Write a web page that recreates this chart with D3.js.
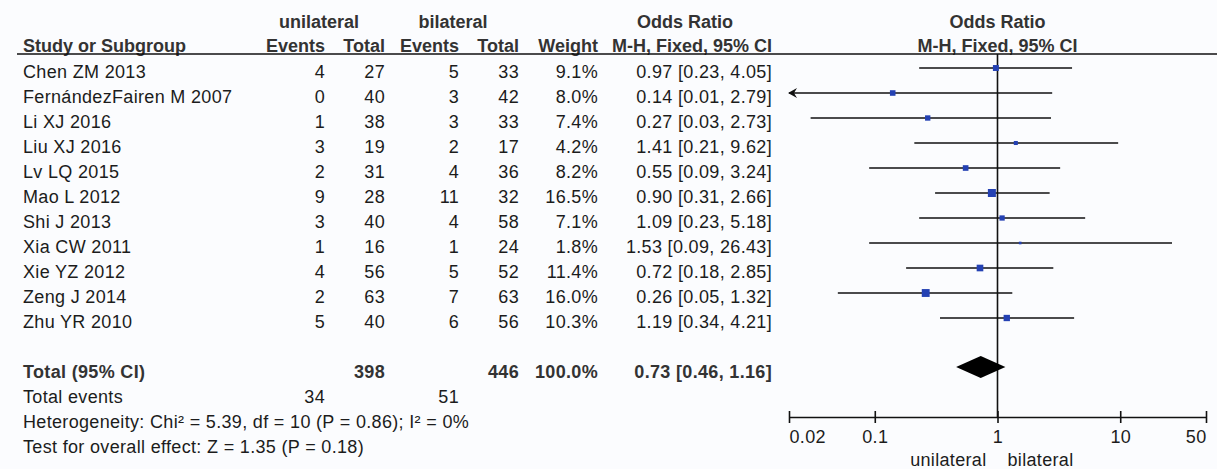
<!DOCTYPE html>
<html>
<head>
<meta charset="utf-8">
<script src="https://cdn.jsdelivr.net/npm/d3@7"></script>
<style>
  html, body { margin: 0; padding: 0; background: #fbfcfe; }
  svg { display: block; }
  text { font-family: Arial, "Liberation Sans", sans-serif; font-size: 18px; fill: #1c1c1c; }
  .body { letter-spacing: 0.33px; }
  .bold { font-weight: bold; fill: #333; }
</style>
</head>
<body>
<svg id="chart" width="1217" height="469"></svg>
<script>
// Study-level data
const studies = ["Chen ZM 2013", "FernándezFairen M 2007", "Li XJ 2016", "Liu XJ 2016", "Lv LQ 2015",
  "Mao L 2012", "Shi J 2013", "Xia CW 2011", "Xie YZ 2012", "Zeng J 2014", "Zhu YR 2010"];
const uniEvents = [4, 0, 1, 3, 2, 9, 3, 1, 4, 2, 5];
const uniTotal  = [27, 40, 38, 19, 31, 28, 40, 16, 56, 63, 40];
const biEvents  = [5, 3, 3, 2, 4, 11, 4, 1, 5, 7, 6];
const biTotal   = [33, 42, 33, 17, 36, 32, 58, 24, 52, 63, 56];
const weights   = [9.1, 8.0, 7.4, 4.2, 8.2, 16.5, 7.1, 1.8, 11.4, 16.0, 10.3];
const oddsRatio = [0.97, 0.14, 0.27, 1.41, 0.55, 0.90, 1.09, 1.53, 0.72, 0.26, 1.19];
const ciLower   = [0.23, 0.01, 0.03, 0.21, 0.09, 0.31, 0.23, 0.09, 0.18, 0.05, 0.34];
const ciUpper   = [4.05, 2.79, 2.73, 9.62, 3.24, 2.66, 5.18, 26.43, 2.85, 1.32, 4.21];

// Pooled result
const pooledOR = 0.73;
const pooledCI = [0.46, 1.16];
const totalCounts = [398, 446];
const totalEvents = [34, 51];
const heterogeneityText = "Heterogeneity: Chi\u00B2 = 5.39, df = 10 (P = 0.86); I\u00B2 = 0%";
const overallEffectText = "Test for overall effect: Z = 1.35 (P = 0.18)";

// Axis
const axisTicks = [0.02, 0.1, 1, 10, 50];
const axisTickLabels = ["0.02", "0.1", "1", "10", "50"];
const favourLabels = ["unilateral", "bilateral"];

const svg = d3.select("#chart");
const fmt2 = d3.format(".2f");
const fmt1 = d3.format(".1f");
const idx = d3.range(studies.length);

// Scales
const x = d3.scaleLog().domain([axisTicks[0], axisTicks[axisTicks.length - 1]]).range([789, 1206]);
const row = d3.scaleLinear().domain([0, 1]).range([68, 93]);
const boxSize = d3.scaleSqrt().domain([0, d3.max(weights)]).range([0, 8]);
const side = i => Math.max(boxSize(weights[i]), 2.5);

const headerLineY = 54;
const axisY = 417;
const x1 = x(1);
const textDy = 10;

// Column anchors (right-aligned numeric columns)
const col = { study: 23, ev1: 325, tot1: 385, ev2: 459, tot2: 519, weight: 598, ci: 772 };

function txt(g, xPos, yPos, s, anchor, cls) {
  return g.append("text").attr("x", xPos).attr("y", yPos)
    .attr("text-anchor", anchor || "start").attr("class", cls || null).text(s);
}

const table = svg.append("g");

// Group headers
txt(table, 319, 28, "unilateral", "middle", "bold");
txt(table, 453, 28, "bilateral", "middle", "bold");
txt(table, 685, 28, "Odds Ratio", "middle", "bold");
txt(table, x1, 28, "Odds Ratio", "middle", "bold");

// Column headers
txt(table, col.study, 52, "Study or Subgroup", "start", "bold");
txt(table, col.ev1, 52, "Events", "end", "bold");
txt(table, col.tot1, 52, "Total", "end", "bold");
txt(table, col.ev2, 52, "Events", "end", "bold");
txt(table, col.tot2, 52, "Total", "end", "bold");
txt(table, col.weight, 52, "Weight", "end", "bold");
txt(table, col.ci, 52, "M-H, Fixed, 95% CI", "end", "bold");
txt(table, x1, 52, "M-H, Fixed, 95% CI", "middle", "bold");

svg.append("line").attr("x1", 17).attr("x2", 1217).attr("y1", headerLineY).attr("y2", headerLineY)
  .attr("stroke", "#111").attr("stroke-width", 1.6);

// Study rows
const rows = table.selectAll("g.study").data(idx).join("g").attr("class", "study")
  .attr("transform", i => `translate(0,${row(i) + textDy})`);
rows.append("text").attr("class", "body").attr("x", col.study).text(i => studies[i]);
rows.append("text").attr("class", "body").attr("x", col.ev1).attr("text-anchor", "end").text(i => uniEvents[i]);
rows.append("text").attr("class", "body").attr("x", col.tot1).attr("text-anchor", "end").text(i => uniTotal[i]);
rows.append("text").attr("class", "body").attr("x", col.ev2).attr("text-anchor", "end").text(i => biEvents[i]);
rows.append("text").attr("class", "body").attr("x", col.tot2).attr("text-anchor", "end").text(i => biTotal[i]);
rows.append("text").attr("class", "body").attr("x", col.weight).attr("text-anchor", "end").text(i => fmt1(weights[i]) + "%");
rows.append("text").attr("class", "body").attr("x", col.ci).attr("text-anchor", "end")
  .text(i => `${fmt2(oddsRatio[i])} [${fmt2(ciLower[i])}, ${fmt2(ciUpper[i])}]`);

// Summary rows
const totalRow = 12;
const yTot = row(totalRow) + textDy;
txt(table, col.study, yTot, "Total (95% CI)", "start", "bold body");
txt(table, col.tot1, yTot, totalCounts[0], "end", "bold body");
txt(table, col.tot2, yTot, totalCounts[1], "end", "bold body");
txt(table, col.weight, yTot, fmt1(d3.sum(weights)) + "%", "end", "bold body");
txt(table, col.ci, yTot, `${fmt2(pooledOR)} [${fmt2(pooledCI[0])}, ${fmt2(pooledCI[1])}]`, "end", "bold body");

const yEv = row(totalRow + 1) + textDy;
txt(table, col.study, yEv, "Total events", "start", "body");
txt(table, col.ev1, yEv, totalEvents[0], "end", "body");
txt(table, col.ev2, yEv, totalEvents[1], "end", "body");
txt(table, col.study, row(totalRow + 2) + textDy, heterogeneityText, "start", "body");
txt(table, col.study, row(totalRow + 3) + textDy, overallEffectText, "start", "body");

// Forest plot
const plot = svg.append("g");

// Line of no effect
plot.append("line").attr("x1", x1).attr("x2", x1).attr("y1", headerLineY).attr("y2", axisY)
  .attr("stroke", "#111").attr("stroke-width", 1.6);

const [xMin, xMax] = x.domain();
const ci = plot.selectAll("g.ci").data(idx).join("g").attr("class", "ci");
ci.append("line")
  .attr("x1", i => x(Math.max(ciLower[i], xMin)))
  .attr("x2", i => x(Math.min(ciUpper[i], xMax)))
  .attr("y1", i => row(i)).attr("y2", i => row(i))
  .attr("stroke", "#111").attr("stroke-width", 1.6);

// Arrowheads where an interval runs past the axis range
ci.filter(i => ciLower[i] < xMin).append("path")
  .attr("d", i => {
    const px = x(xMin) - 1, py = row(i);
    return `M${px},${py} L${px + 9},${py - 5} L${px + 6},${py} L${px + 9},${py + 5} Z`;
  }).attr("fill", "#111");

ci.append("rect")
  .attr("x", i => x(oddsRatio[i]) - side(i) / 2)
  .attr("y", i => row(i) - side(i) / 2)
  .attr("width", i => side(i))
  .attr("height", i => side(i))
  .attr("fill", "#2441b3");

// Pooled diamond
const yD = row(totalRow) - 1;
plot.append("path")
  .attr("d", `M${x(pooledCI[0])},${yD} L${x(pooledOR)},${yD - 11} L${x(pooledCI[1])},${yD} L${x(pooledOR)},${yD + 11} Z`)
  .attr("fill", "#000");

// Log axis
const axis = d3.axisBottom(x).tickValues(axisTicks).tickFormat((d, i) => axisTickLabels[i])
  .tickSizeOuter(0).tickSizeInner(6).tickPadding(7);
const gAxis = svg.append("g").attr("transform", `translate(0,${axisY})`).call(axis);
gAxis.select(".domain").attr("stroke", "#111").attr("stroke-width", 1.6);
gAxis.selectAll(".tick line").attr("y1", -6).attr("y2", 6).attr("stroke", "#111").attr("stroke-width", 1.6);
gAxis.selectAll(".tick text")
  .attr("font-size", 18).attr("font-family", "Arial, 'Liberation Sans', sans-serif").attr("fill", "#1c1c1c")
  .attr("letter-spacing", "0.33px")
  .attr("text-anchor", (d, i) => i === 0 ? "start" : (i === axisTicks.length - 1 ? "end" : "middle"));

// Favour labels
txt(svg, x1 - 11, 466, favourLabels[0], "end", "body").attr("fill", "#444");
txt(svg, x1 + 10, 466, favourLabels[1], "start", "body").attr("fill", "#444");
</script>
</body>
</html>
